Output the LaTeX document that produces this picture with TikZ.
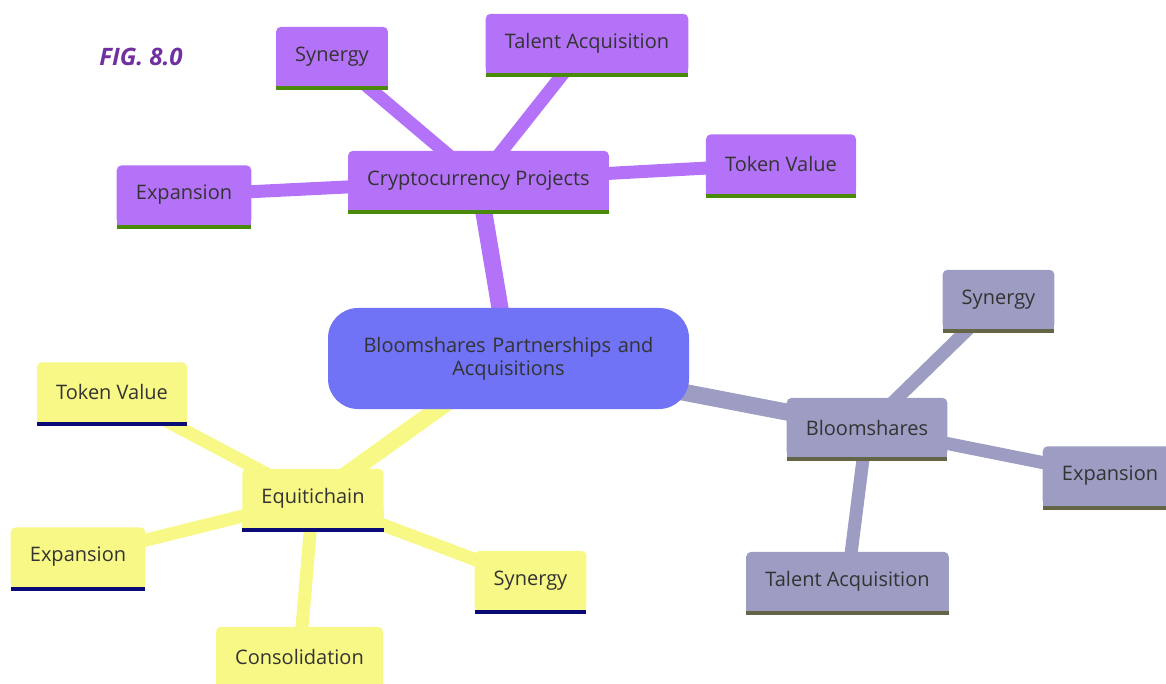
\documentclass[tikz,border=0pt]{standalone}
\usepackage{fontspec}
\setmainfont{Open Sans}
\pgfdeclarelayer{edges}
\pgfdeclarelayer{boxes}
\pgfsetlayers{edges,boxes,main}
\definecolor{rootfill}{HTML}{7073F5}
\definecolor{purplefill}{HTML}{B472F8}
\definecolor{purplebar}{HTML}{4A8A0A}
\definecolor{grayfill}{HTML}{9D9DC4}
\definecolor{graybar}{HTML}{646446}
\definecolor{yellowfill}{HTML}{F8F886}
\definecolor{yellowbar}{HTML}{0B0B78}
\definecolor{labeltext}{HTML}{333333}
\definecolor{figtext}{HTML}{7030A0}
\tikzset{
  leaf/.style={inner xsep=19pt, inner ysep=0pt, minimum height=59pt,
    text=labeltext, font=\fontsize{20}{24}\selectfont},
  branchedge/.style={line width=17pt},
  leafedge/.style={line width=13pt},
}
% box with rounded top corners and a coloured bar under its bottom edge
\newcommand\paintbox[3]{%
  \begin{pgfonlayer}{boxes}
    \fill[#2, rounded corners=5pt] (#1.south west) rectangle (#1.north east);
    \fill[#2] (#1.south west) rectangle ([yshift=-10pt]#1.east);
    \fill[#3] (#1.south west) rectangle ([yshift=-4pt]#1.south east);
  \end{pgfonlayer}}
\begin{document}
\begin{tikzpicture}[x=1pt, y=-1pt]
\useasboundingbox (0,0) rectangle (1166,684);

\node[font=\fontsize{24}{28}\selectfont\bfseries\itshape, text=figtext] (fig) at (141,57) {FIG. 8.0};

% root
\node[fill=rootfill, rounded corners=30pt, minimum width=361pt, minimum height=101pt,
  text width=330pt, align=center, text=labeltext,
  font=\fontsize{20}{23}\selectfont] (root) at (508.5,358.5)
  {Bloomshares Partnerships and\\Acquisitions};

% first level
\node[leaf] (crypto) at (478.5,180.5) {Cryptocurrency Projects};
\node[leaf] (bloom) at (867,427.5) {Bloomshares};
\node[leaf] (equi) at (313,498.5) {Equitichain};

% second level
\node[leaf] (syn1) at (332,56.5) {Synergy};
\node[leaf] (tal1) at (587,43.5) {Talent Acquisition};
\node[leaf] (tok1) at (781,164) {Token Value};
\node[leaf] (exp1) at (184,195) {Expansion};

\node[leaf] (syn2) at (998.5,299.5) {Synergy};
\node[leaf] (exp2) at (1110,476) {Expansion};
\node[leaf] (tal2) at (847.5,581.5) {Talent Acquisition};

\node[leaf] (tok3) at (112,392) {Token Value};
\node[leaf] (exp3) at (78,557) {Expansion};
\node[leaf] (syn3) at (530.5,580.5) {Synergy};
\node[leaf] (cons) at (299.5,656.5) {Consolidation};

\paintbox{crypto}{purplefill}{purplebar}
\paintbox{syn1}{purplefill}{purplebar}
\paintbox{tal1}{purplefill}{purplebar}
\paintbox{tok1}{purplefill}{purplebar}
\paintbox{exp1}{purplefill}{purplebar}
\paintbox{bloom}{grayfill}{graybar}
\paintbox{syn2}{grayfill}{graybar}
\paintbox{exp2}{grayfill}{graybar}
\paintbox{tal2}{grayfill}{graybar}
\paintbox{equi}{yellowfill}{yellowbar}
\paintbox{tok3}{yellowfill}{yellowbar}
\paintbox{exp3}{yellowfill}{yellowbar}
\paintbox{syn3}{yellowfill}{yellowbar}
\paintbox{cons}{yellowfill}{yellowbar}

\begin{pgfonlayer}{edges}
  \draw[branchedge, purplefill] (root.center) -- (crypto.center);
  \draw[branchedge, grayfill] (root.center) -- (bloom.center);
  \draw[branchedge, yellowfill] (root.center) -- (equi.center);
  \foreach \n in {syn1,tal1,tok1,exp1}
    \draw[leafedge, purplefill] (crypto.center) -- (\n.center);
  \foreach \n in {syn2,exp2,tal2}
    \draw[leafedge, grayfill] (bloom.center) -- (\n.center);
  \foreach \n in {tok3,exp3,syn3,cons}
    \draw[leafedge, yellowfill] (equi.center) -- (\n.center);
\end{pgfonlayer}
\end{tikzpicture}
\end{document}
